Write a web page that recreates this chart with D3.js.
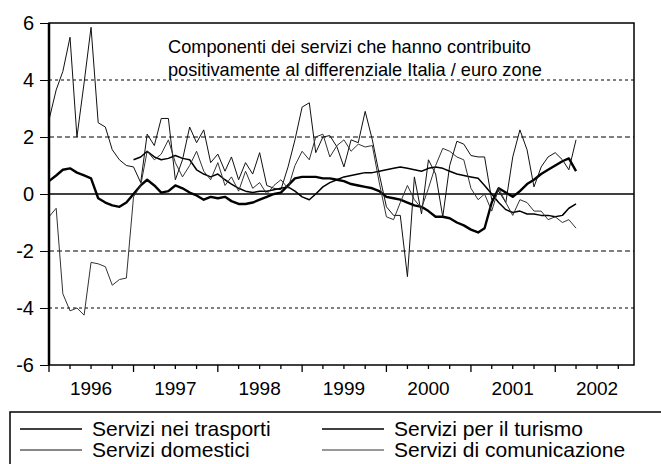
<!DOCTYPE html>
<html>
<head>
<meta charset="utf-8">
<script src="https://cdn.jsdelivr.net/npm/d3@7"></script>
<style>
  body { margin: 0; background: #fff; }
  text { font-family: Arial, "Liberation Sans", sans-serif; fill: #000; }
</style>
</head>
<body>
<div id="chart"></div>
<script>
// monthly data, Jan 1996 - Apr 2002
let startMonth = new Date(1996, 0, 1);
let yearLabels = ["1996", "1997", "1998", "1999", "2000", "2001", "2002"];
let yTicks = [-6, -4, -2, 0, 2, 4, 6];
let titleLines = ["Componenti dei servizi che hanno contribuito",
    "positivamente al differenziale Italia / euro zone"];

let trasporti = [
    0.45, 0.65, 0.85, 0.9, 0.75, 0.65, 0.55, -0.15, -0.3, -0.4, -0.45, -0.3,
    0.0, 0.3, 0.5, 0.3, 0.05, 0.1, 0.3, 0.2, 0.05, -0.05, -0.2, -0.1,
    -0.15, -0.1, -0.25, -0.35, -0.35, -0.3, -0.2, -0.1, 0.0, 0.05, 0.3, 0.55,
    0.6, 0.6, 0.6, 0.55, 0.55, 0.5, 0.45, 0.35, 0.3, 0.25, 0.2, 0.1,
    -0.1, -0.15, -0.2, -0.3, -0.4, -0.45, -0.6, -0.8, -0.8, -0.85, -1.0, -1.1,
    -1.25, -1.35, -1.2, -0.3, 0.2, 0.05, -0.1, 0.1, 0.35, 0.5, 0.7, 0.85,
    1.0, 1.15, 1.25, 0.8
];
let domestici = [
    2.6, 3.65, 4.3, 5.5, 2.0, 3.9, 5.85, 2.5, 2.35, 1.55, 1.2, 1.0,
    0.95, 0.4, 2.1, 1.7, 2.65, 2.65, 0.5, 1.2, 2.35, 1.8, 2.25, 1.1,
    1.4, 0.8, 1.3, 0.5, 1.1, 0.7, 1.45, 0.3, 0.2, 0.15, 0.95, 1.9,
    3.05, 3.2, 1.45, 2.0, 2.05, 1.65, 0.95, 1.9, 1.8, 2.9, 1.9, 0.7,
    -0.45, -0.75, -0.75, -2.9, 0.6, -0.7, 1.2, 0.7, -0.8, 1.0, 1.85, 1.75,
    1.35, 1.3, 1.3, -0.2, 0.1, -0.3, 1.3, 2.25, 1.55, 0.25, 0.95, 1.3,
    1.45, 1.2, 0.85, 1.9
];
let turismo = [
    null, null, null, null, null, null, null, null, null, null, null, null,
    1.2, 1.3, 1.5, 1.3, 1.2, 1.25, 1.35, 1.25, 1.2, 0.85, 0.7, 0.6,
    0.7, 0.5, 0.35, 0.2, 0.1, 0.05, 0.1, 0.1, 0.15, 0.2, 0.25, 0.1,
    -0.1, -0.2, 0.0, 0.25, 0.4, 0.5, 0.6, 0.65, 0.7, 0.75, 0.75, 0.8,
    0.85, 0.9, 0.95, 0.9, 0.85, 0.8, 0.9, 0.95, 0.9, 0.8, 0.7, 0.65,
    0.6, 0.55, 0.3, 0.0, -0.3, -0.55, -0.65, -0.6, -0.7, -0.7, -0.75, -0.75,
    -0.8, -0.75, -0.5, -0.35
];
let comunicazione = [
    -0.8, -0.5, -3.5, -4.1, -4.0, -4.25, -2.4, -2.45, -2.55, -3.2, -3.0, -2.95,
    -0.1, 0.3, 1.5, 1.2, 1.4, 1.9, 1.1, 0.6, 1.0, 1.5, 0.8, 0.5,
    1.1, 0.3, 0.6, 0.1, 0.8, 0.2, 0.4, 0.0, 0.3, 0.5, 0.2, 1.0,
    1.5, 1.2, 2.0, 2.1, 1.3, 1.7, 1.9, 1.5, 1.75, 1.65, 1.7, 0.4,
    -0.8, -0.9, -0.3, 0.3, -0.2, -0.5, 0.2, 1.0, 1.6, 1.5, 1.3, 1.2,
    0.2, -0.2, 0.0, -0.6, 0.2, -0.3, -0.75, -0.2, -0.3, -0.6, -0.6, -0.9,
    -0.8, -1.0, -0.9, -1.2
];

(function () {
    let width = 661, height = 464;
    let left = 49, right = 634, top = 23, bottom = 365;
    let svg = d3.select("#chart")
        .append("svg")
        .attr("width", width)
        .attr("height", height);

    let x = d3.scaleTime()
        .domain([startMonth, new Date(2002, 11, 8)])
        .range([left, right]);
    let y = d3.scaleLinear()
        .domain([-6, 6])
        .range([bottom, top]);

    let series = [
        { name: "Servizi nei trasporti", values: trasporti, width: 2.4, color: "#000" },
        { name: "Servizi domestici", values: domestici, width: 1, color: "#111" },
        { name: "Servizi per il turismo", values: turismo, width: 1.5, color: "#000" },
        { name: "Servizi di comunicazione", values: comunicazione, width: 1, color: "#333" }
    ];

    // dashed grid lines
    svg.append("g")
        .selectAll("line")
        .data(yTicks.filter(d => d !== 0 && Math.abs(d) !== 6))
        .enter()
        .append("line")
        .attr("x1", left)
        .attr("x2", right)
        .attr("y1", d => y(d))
        .attr("y2", d => y(d))
        .attr("stroke", "#000")
        .attr("stroke-width", 1)
        .attr("stroke-dasharray", d => Math.abs(d) === 4 ? "3,3" : "5,3");

    svg.append("line")
        .attr("x1", left)
        .attr("x2", right)
        .attr("y1", y(0))
        .attr("y2", y(0))
        .attr("stroke", "#000")
        .attr("stroke-width", 1.5);

    // lines
    let line = d3.line()
        .defined(d => d[1] !== null)
        .x(d => x(d[0]))
        .y(d => y(d[1]));
    series.forEach(s => {
        let pts = s.values.map((v, i) => [d3.timeMonth.offset(startMonth, i), v]);
        svg.append("path")
            .attr("fill", "none")
            .attr("stroke", s.color)
            .attr("stroke-width", s.width)
            .attr("stroke-linejoin", "round")
            .attr("d", line(pts));
    });

    // frame
    svg.append("rect")
        .attr("x", left)
        .attr("y", top)
        .attr("width", right - left)
        .attr("height", bottom - top)
        .attr("fill", "none")
        .attr("stroke", "#000")
        .attr("stroke-width", 1.5);
    svg.append("line")
        .attr("x1", left).attr("x2", left)
        .attr("y1", top).attr("y2", bottom)
        .attr("stroke", "#000")
        .attr("stroke-width", 2.5);

    // y axis
    let yAxis = svg.append("g")
        .attr("transform", `translate(${left},0)`)
        .call(d3.axisLeft(y).tickValues(yTicks).tickSize(9).tickPadding(6).tickFormat(d => String(d)));
    yAxis.select(".domain").remove();
    yAxis.selectAll("text")
        .attr("font-size", "20px")
        .style("font-family", "Arial, 'Liberation Sans', sans-serif");

    // x axis: year ticks, quarter ticks, centred labels
    let xAxis = svg.append("g")
        .attr("transform", `translate(0,${bottom})`);
    xAxis.selectAll("line.minor")
        .data(d3.timeMonth.every(3).range(startMonth, new Date(2002, 11, 8)))
        .enter()
        .append("line")
        .attr("x1", d => x(d))
        .attr("x2", d => x(d))
        .attr("y1", 0)
        .attr("y2", d => d.getMonth() === 0 ? 7 : 4)
        .attr("stroke", "#000")
        .attr("stroke-width", 1.3);
    xAxis.selectAll("text")
        .data(yearLabels)
        .enter()
        .append("text")
        .attr("x", d => x(new Date(+d, 6, 1)))
        .attr("y", 30)
        .attr("text-anchor", "middle")
        .attr("font-size", "19px")
        .text(d => d);

    // title inside plot
    svg.append("g")
        .selectAll("text")
        .data(titleLines)
        .enter()
        .append("text")
        .attr("x", 168)
        .attr("y", (_, i) => 53 + i * 23)
        .attr("font-size", "18.2px")
        .text(d => d);

    // legend
    svg.append("rect")
        .attr("x", 10)
        .attr("y", 412)
        .attr("width", 680)
        .attr("height", 80)
        .attr("fill", "none")
        .attr("stroke", "#000")
        .attr("stroke-width", 1.5);
    let lg = svg.append("g")
        .selectAll("g")
        .data(series)
        .enter()
        .append("g")
        .attr("transform", (_, i) => `translate(${i < 2 ? 20 : 322},${429 + (i % 2) * 21})`);
    lg.append("line")
        .attr("x1", 0)
        .attr("x2", 62)
        .attr("stroke", d => d.color)
        .attr("stroke-width", d => Math.min(d.width, 1.6));
    lg.append("text")
        .attr("x", 72)
        .attr("y", 7)
        .attr("font-size", "21px")
        .text(d => d.name);
})()
</script>
</body>
</html>
